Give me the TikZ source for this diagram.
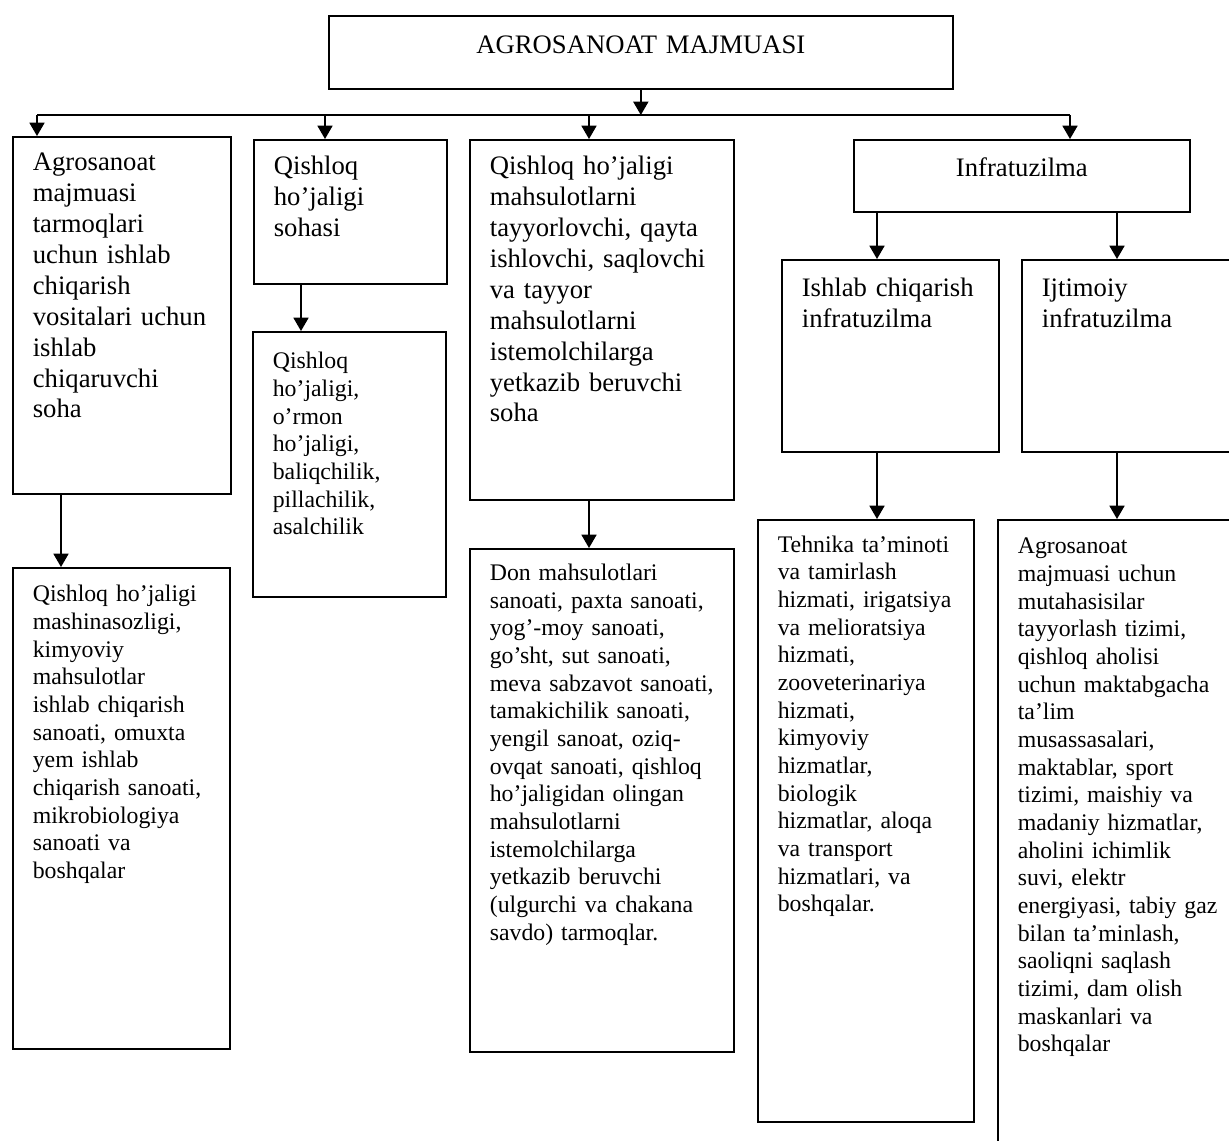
\documentclass[tikz,border=0pt]{standalone}
\usepackage{fontspec}
\setmainfont{Liberation Serif}
\usetikzlibrary{arrows.meta}

\begin{document}
\begin{tikzpicture}[x=0.45pt,y=-0.45pt,
blok/.style={draw, rectangle, line width=0.75pt, anchor=north west, align=left, inner xsep=9pt, inner ysep=0pt},
katta/.style={font=\fontsize{12pt}{13.9pt}\selectfont},
kichik/.style={font=\fontsize{10.7pt}{12.45pt}\selectfont},
pil/.style={line width=0.6pt, -{Triangle[width=6.8pt,length=6pt]}}]

\path[use as bounding box, clip] (0,0) rectangle (1229,1140);

\node[blok, katta, align=center, text width=262.8pt, text height=17.1pt, text depth=15.75pt] (a) at (328,15)
{AGROSANOAT MAJMUASI};

\node[blok, katta, text width=80.1pt, text height=15.3pt, text depth=145.35pt] (b) at (12,136)
{Agrosanoat\\ majmuasi\\ tarmoqlari\\ uchun ishlab\\ chiqarish\\ vositalari uchun\\ ishlab\\ chiqaruvchi\\ soha};
\node[blok, katta, text width=68.85pt, text height=15.75pt, text depth=49.05pt] (c) at (253,139)
{Qishloq\\ ho’jaligi\\ sohasi};
\node[blok, katta, text width=100.8pt, text height=15.75pt, text depth=146.25pt] (d) at (469,139)
{Qishloq ho’jaligi\\ mahsulotlarni\\ tayyorlovchi, qayta\\ ishlovchi, saqlovchi\\ va tayyor\\ mahsulotlarni\\ istemolchilarga\\ yetkazib beruvchi\\ soha};
\node[blok, katta, align=center, text width=133.2pt, text height=16.65pt, text depth=15.75pt] (e) at (853,139)
{Infratuzilma};

\node[blok, katta, text width=79.65pt, text height=16.65pt, text depth=69.75pt] (f) at (781,259)
{Ishlab chiqarish\\ infratuzilma};
\node[blok, katta, text width=85.05pt, text height=16.65pt, text depth=69.75pt] (g) at (1021,259)
{Ijtimoiy\\ infratuzilma};

\node[blok, kichik, text width=79.65pt, text height=15.3pt, text depth=201.15pt] (h) at (12,567)
{Qishloq ho’jaligi\\ mashinasozligi,\\ kimyoviy\\ mahsulotlar\\ ishlab chiqarish\\ sanoati, omuxta\\ yem ishlab\\ chiqarish sanoati,\\ mikrobiologiya\\ sanoati va\\ boshqalar};
\node[blok, kichik, text width=68.85pt, text height=16.65pt, text depth=102.6pt] (i) at (252,331)
{Qishloq\\ ho’jaligi,\\ o’rmon\\ ho’jaligi,\\ baliqchilik,\\ pillachilik,\\ asalchilik};
\node[blok, kichik, text width=100.8pt, text height=14.2pt, text depth=212.15pt] (j) at (469,548)
{Don mahsulotlari\\ sanoati, paxta sanoati,\\ yog’-moy sanoati,\\ go’sht, sut sanoati,\\ meva sabzavot sanoati,\\ tamakichilik sanoati,\\ yengil sanoat, oziq-\\ ovqat sanoati, qishloq\\ ho’jaligidan olingan\\ mahsulotlarni\\ istemolchilarga\\ yetkazib beruvchi\\ (ulgurchi va chakana\\ savdo) tarmoqlar.};
\node[blok, kichik, text width=79.2pt, text height=14.6pt, text depth=256.3pt] (k) at (757,519)
{Tehnika ta’minoti\\ va tamirlash\\ hizmati, irigatsiya\\ va melioratsiya\\ hizmati,\\ zooveterinariya\\ hizmati,\\ kimyoviy\\ hizmatlar,\\ biologik\\ hizmatlar, aloqa\\ va transport\\ hizmatlari, va\\ boshqalar.};
\node[blok, kichik, text width=95.85pt, text height=15.3pt, text depth=273.15pt] (l) at (997,519)
{Agrosanoat\\ majmuasi uchun\\ mutahasisilar\\ tayyorlash tizimi,\\ qishloq aholisi\\ uchun maktabgacha\\ ta’lim\\ musassasalari,\\ maktablar, sport\\ tizimi, maishiy va\\ madaniy hizmatlar,\\ aholini ichimlik\\ suvi, elektr\\ energiyasi, tabiy gaz\\ bilan ta’minlash,\\ saoliqni saqlash\\ tizimi, dam olish\\ maskanlari va\\ boshqalar};

\coordinate (u1) at (37,115);
\coordinate (u2) at (325,115);
\coordinate (u3) at (589,115);
\coordinate (u4) at (1070,115);
\coordinate (v1) at (61,0);
\coordinate (v2) at (301,0);
\coordinate (v3) at (589,0);
\coordinate (v4) at (877,0);
\coordinate (v5) at (1117,0);

\path[draw,pil] (a) -- (a.south |- u1);
\path[draw,line width=0.6pt] (u1) -- (u4);
\path[draw,pil] (u1) -- (u1 |- b.north);
\path[draw,pil] (u2) -- (u2 |- c.north);
\path[draw,pil] (u3) -- (u3 |- d.north);
\path[draw,pil] (u4) -- (u4 |- e.north);

\path[draw,pil] (v4 |- e.south) -- (v4 |- f.north);
\path[draw,pil] (v5 |- e.south) -- (v5 |- g.north);
\path[draw,pil] (v1 |- b.south) -- (v1 |- h.north);
\path[draw,pil] (v2 |- c.south) -- (v2 |- i.north);
\path[draw,pil] (v3 |- d.south) -- (v3 |- j.north);
\path[draw,pil] (v4 |- f.south) -- (v4 |- k.north);
\path[draw,pil] (v5 |- g.south) -- (v5 |- l.north);
\end{tikzpicture}
\end{document}
